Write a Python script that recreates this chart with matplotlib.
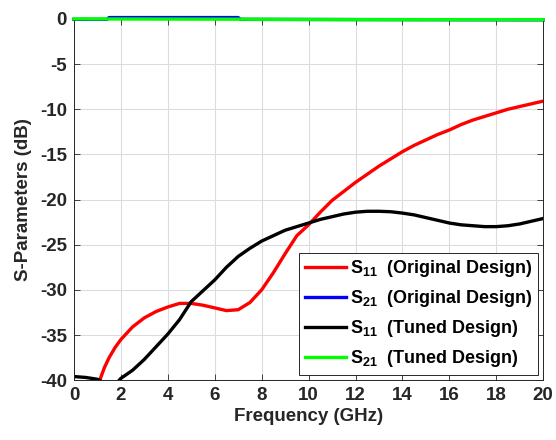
import matplotlib
matplotlib.use("Agg")
import matplotlib.pyplot as plt

plt.rcParams['font.family'] = ['Liberation Sans', 'DejaVu Sans']
plt.rcParams['font.weight'] = 'bold'
plt.rcParams['axes.unicode_minus'] = False
plt.rcParams['mathtext.fontset'] = 'custom'
plt.rcParams['mathtext.bf'] = 'Liberation Sans:bold'
plt.rcParams['mathtext.rm'] = 'Liberation Sans:bold'
plt.rcParams['mathtext.it'] = 'Liberation Sans:bold'
plt.rcParams['mathtext.default'] = 'bf'

# ---- data ----
s11_orig_f = [1.1, 1.3, 1.5, 1.75, 2, 2.5, 3, 3.5, 4, 4.5, 5, 5.5, 6, 6.5, 7, 7.5, 8,
              8.5, 9, 9.5, 10, 10.5, 11, 11.5, 12, 12.5, 13, 13.5, 14, 14.5, 15,
              15.5, 16, 16.5, 17, 17.5, 18, 18.5, 19, 19.5, 20]
s11_orig_db = [-40, -38.6, -37.5, -36.4, -35.5, -34.1, -33.1, -32.4, -31.9, -31.5,
               -31.5, -31.7, -32.0, -32.3, -32.2, -31.4, -30.0, -28.1, -26.0, -24.0,
               -22.8, -21.4, -20.1, -19.1, -18.1, -17.2, -16.3, -15.5, -14.7, -14.0,
               -13.4, -12.8, -12.3, -11.7, -11.2, -10.8, -10.4, -10.0, -9.7, -9.4,
               -9.1]

s21_orig_f = [0, 1.4, 1.5, 7.0, 7.1, 20]
s21_orig_db = [-0.05, -0.05, 0.15, 0.15, -0.05, -0.1]

s11_tuned_f = [0, 0.5, 1.0, 1.3, 1.6, 1.9, 2.0, 2.5, 3, 3.5, 4, 4.5, 5, 5.5, 6, 6.5,
               7, 7.5, 8, 8.5, 9, 9.5, 10, 10.5, 11, 11.5, 12, 12.5, 13, 13.5, 14,
               14.5, 15, 15.5, 16, 16.5, 17, 17.5, 18, 18.5, 19, 19.5, 20]
s11_tuned_db = [-39.6, -39.7, -39.9, -40.3, -40.5, -40.1, -39.8, -38.9, -37.7, -36.3,
                -34.9, -33.3, -31.3, -30.1, -28.9, -27.5, -26.3, -25.4, -24.6, -24.0,
                -23.4, -23.0, -22.6, -22.2, -21.9, -21.6, -21.4, -21.3, -21.3, -21.35,
                -21.5, -21.7, -22.0, -22.3, -22.6, -22.8, -22.9, -23.0, -23.0, -22.9,
                -22.7, -22.4, -22.1]

s21_tuned_f = [0, 7, 12, 20]
s21_tuned_db = [0.0, -0.03, -0.08, -0.08]

labels = [r'$\mathbf{S_{11}}$  (Original Design)', r'$\mathbf{S_{21}}$  (Original Design)',
          r'$\mathbf{S_{11}}$  (Tuned Design)', r'$\mathbf{S_{21}}$  (Tuned Design)']
colors = ['#ff0000', '#0000ff', '#000000', '#00ff00']

xticks = list(range(0, 21, 2))
yticks = list(range(-40, 1, 5))

fig = plt.figure(figsize=(5.56, 4.4), dpi=100)
ax = fig.add_axes([0.133, 0.136, 0.844, 0.821])

lw = 2.4
ax.plot(s11_orig_f, s11_orig_db, color=colors[0], lw=lw, label=labels[0])
ax.plot(s21_orig_f, s21_orig_db, color=colors[1], lw=lw, label=labels[1], clip_on=False)
ax.plot(s11_tuned_f, s11_tuned_db, color=colors[2], lw=lw, label=labels[2])
ax.plot(s21_tuned_f, s21_tuned_db, color=colors[3], lw=lw, label=labels[3], clip_on=False, zorder=3)

ax.set_xlim(0, 20)
ax.set_ylim(-40, 0)
ax.set_xticks(xticks)
ax.set_yticks(yticks)
ax.grid(True, color='#dcdcdc', lw=0.8)
ax.set_axisbelow(True)
ax.tick_params(direction='in', top=True, right=True, length=4, width=0.6,
               colors='#262626', labelsize=13.5, pad=5)
for t in ax.get_xticklabels() + ax.get_yticklabels():
    t.set_fontweight('bold')
for s in ax.spines.values():
    s.set_color('#262626')
    s.set_linewidth(0.7)

ax.set_xlabel('Frequency (GHz)', fontsize=13.5, fontweight='bold', color='#262626', labelpad=3)
ax.set_ylabel('S-Parameters (dB)', fontsize=13.5, fontweight='bold', color='#262626', labelpad=6)

leg = ax.legend(loc='lower right', prop={'size': 13, 'weight': 'bold'}, frameon=True,
                fancybox=False, edgecolor='#262626', framealpha=1, handlelength=2.3,
                handletextpad=0.2, labelspacing=0.5, borderpad=0.3,
                borderaxespad=0.3)
leg.get_frame().set_linewidth(0.7)

fig.savefig('out.png', dpi=100)
